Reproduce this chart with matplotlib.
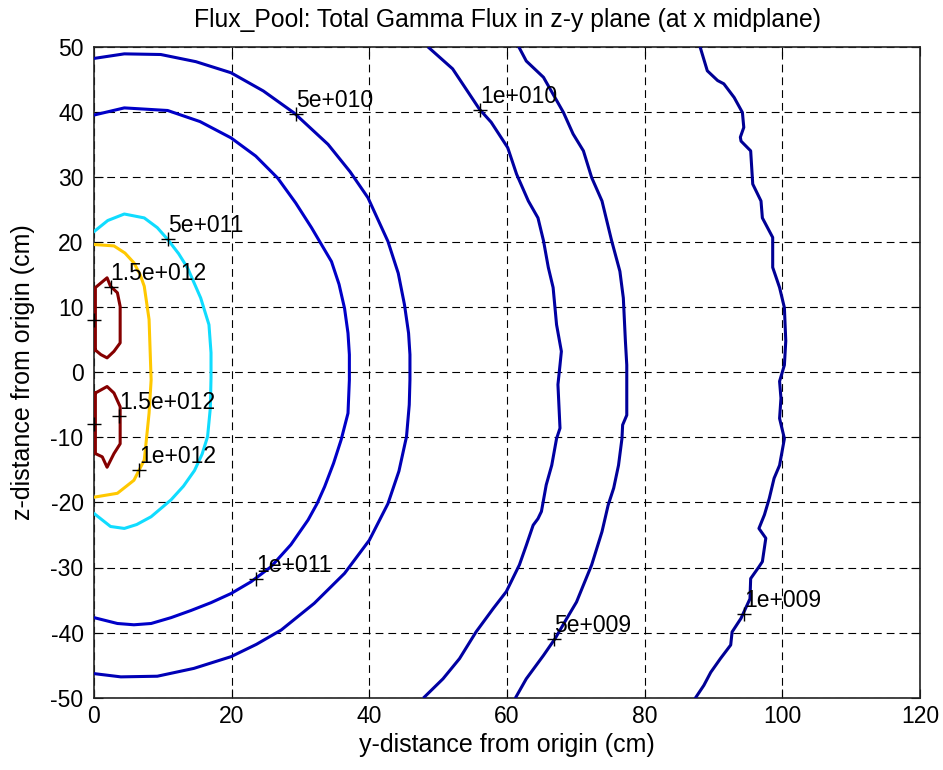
import matplotlib
matplotlib.use("Agg")
import matplotlib.pyplot as plt

plt.rcParams['font.family'] = ['Liberation Sans', 'DejaVu Sans']
plt.rcParams['axes.unicode_minus'] = False

# ---------------- data ----------------
title_text = "Flux_Pool: Total Gamma Flux in z-y plane (at x midplane)"
x_label = "y-distance from origin (cm)"
y_label = "z-distance from origin (cm)"
x_ticks = [0, 20, 40, 60, 80, 100, 120]
y_ticks = [-50, -40, -30, -20, -10, 0, 10, 20, 30, 40, 50]

# contour levels (flux) and their traced paths (y = horizontal, z = vertical)
levels = [1e9, 5e9, 1e10, 5e10, 1e11, 5e11, 1e12, 1.5e12, 1.5e12]

c1e9_y = [88.1, 89.1, 90.6, 91.5, 93.0, 94.2, 94.4, 93.9, 94.0, 95.4, 95.7, 96.9, 97.1,
          98.6, 98.6, 99.6, 100.3, 100.5, 100.3, 99.6, 99.8, 99.6, 100.3, 99.6, 98.8,
          98.1, 97.4, 96.6, 97.6, 97.1, 96.6, 95.4, 95.3, 94.0, 92.7, 92.5, 91.0, 89.6,
          88.6, 87.4]
c1e9_z = [49.8, 46.3, 44.8, 44.3, 42.2, 39.9, 37.6, 36.1, 35.5, 34.0, 28.9, 26.3, 23.7,
          20.7, 16.1, 13.0, 9.9, 4.8, 1.1, -1.4, -4.0, -7.1, -10.2, -14.3, -16.3,
          -19.4, -21.9, -24.0, -25.5, -29.1, -29.9, -31.7, -34.8, -37.8, -39.9, -41.9,
          -44.0, -46.1, -48.1, -50.0]

c5e9_y = [61.8, 62.8, 65.3, 68.2, 69.6, 71.1, 72.3, 73.8, 75.2, 76.4, 76.9, 77.2, 77.4,
          77.4, 76.8, 76.7, 76.2, 75.5, 74.7, 73.8, 72.3, 71.1, 70.1, 68.7, 67.0, 65.3,
          62.8, 61.3]
c5e9_z = [49.8, 47.8, 45.3, 39.9, 36.6, 34.0, 29.9, 26.3, 20.2, 15.5, 11.4, 4.8, 1.1,
          -6.6, -8.1, -10.2, -14.3, -17.8, -20.4, -24.5, -29.6, -32.7, -35.3, -37.8,
          -40.9, -43.5, -47.1, -49.9]

c1e10_y = [48.7, 52.1, 56.0, 57.7, 60.1, 61.4, 63.1, 64.5, 65.3, 66.0, 66.7, 67.2, 67.9,
           67.7, 67.4, 67.7, 67.2, 66.5, 65.7, 65.0, 64.5, 63.8, 62.8, 61.8, 59.9, 58.0,
           55.5, 53.1, 50.7, 48.0]
c1e10_z = [49.8, 46.6, 40.4, 38.4, 34.5, 30.4, 26.3, 23.7, 20.2, 16.1, 13.0, 7.3, 3.2,
           1.1, -1.9, -8.6, -10.2, -14.3, -17.3, -21.4, -22.5, -23.5, -26.6, -29.6,
           -33.7, -36.3, -39.9, -44.0, -47.1, -49.9]

c5e10_y = [0.0, 4.4, 9.7, 14.8, 19.9, 24.6, 29.1, 34.0, 37.2, 39.8, 42.7, 44.2, 45.1,
           45.7, 45.9, 45.9, 45.8, 45.4, 44.3, 42.7, 40.0, 36.4, 32.0, 27.2, 23.6, 19.9,
           14.5, 9.2, 3.9, 0.0]
c5e10_z = [48.2, 48.9, 48.8, 47.7, 46.0, 43.2, 39.8, 35.0, 30.8, 26.8, 20.1, 15.2, 10.4,
           6.0, 2.7, -1.2, -5.0, -9.9, -15.2, -20.2, -25.8, -30.9, -35.5, -39.6, -41.8,
           -43.7, -45.5, -46.7, -46.8, -46.3]

c1e11_y = [0.0, 4.4, 10.7, 15.4, 19.9, 23.5, 26.7, 29.3, 31.6, 34.5, 35.6, 36.4, 36.9,
           37.1, 37.1, 36.9, 35.9, 34.8, 33.5, 32.4, 31.1, 28.6, 25.7, 22.8, 19.9, 17.0,
           14.1, 11.2, 8.3, 5.8, 3.4, 0.0]
c1e11_z = [39.5, 40.6, 40.2, 38.5, 36.0, 33.2, 29.8, 26.0, 22.2, 17.0, 13.5, 9.8, 6.0,
           2.7, -1.2, -6.3, -10.4, -14.0, -17.6, -20.2, -22.7, -26.5, -29.9, -32.2,
           -34.0, -35.4, -36.6, -37.7, -38.6, -38.8, -38.6, -37.7]

c5e11_y = [0.0, 2.0, 4.4, 7.3, 9.2, 10.7, 12.3, 13.6, 15.5, 16.7, 17.0, 17.0, 16.9, 16.5,
           15.7, 14.6, 13.0, 11.2, 8.3, 6.2, 4.4, 2.4, 0.0]
c5e11_z = [21.6, 23.3, 24.3, 23.7, 22.2, 20.4, 18.2, 16.0, 11.4, 7.3, 3.0, -0.9, -5.5,
           -9.9, -12.6, -15.1, -17.5, -19.6, -22.2, -23.4, -24.0, -23.7, -21.7]

c1e12_y = [0.2, 2.9, 4.5, 5.8, 6.7, 7.3, 8.0, 8.3, 8.0, 7.5, 7.3, 5.8, 3.4, 0.0]
c1e12_z = [19.6, 19.4, 18.3, 16.8, 15.0, 13.2, 8.1, -1.2, -6.3, -11.5, -13.5, -16.6,
           -18.6, -19.2]

c15e12a_y = [0.2, 1.0, 1.9, 2.9, 3.8, 3.8, 3.4, 2.4, 1.9, 0.2, 0.2]
c15e12a_z = [3.4, 2.7, 2.2, 3.2, 4.5, 10.1, 12.2, 13.2, 14.5, 13.0, 3.4]

c15e12b_y = [0.2, 1.9, 2.9, 3.8, 3.8, 2.9, 1.9, 1.2, 0.2, 0.2]
c15e12b_z = [-3.2, -2.2, -3.2, -5.3, -11.0, -12.5, -14.6, -13.0, -12.5, -3.2]

# contour labels: marker positions and texts
label_text = ["5e+010", "1e+010", "5e+011", "1.5e+012", "1.5e+012", "1e+012",
              "1e+011", "5e+009", "1e+009"]
label_y = [29.4, 56.1, 10.7, 2.4, 3.6, 6.6, 23.5, 66.8, 94.5]
label_z = [39.6, 40.3, 20.4, 13.1, -6.8, -15.0, -31.8, -41.0, -37.1]
# label markers without visible text
extra_mark_y = [0.0, 0.0]
extra_mark_z = [8.0, -8.0]

# ---------------- styling ----------------
level_colors = ['#000094', '#00009a', '#0000a2', '#0000b6', '#0000c8',
                '#10dcff', '#ffc800', '#850000', '#850000']

paths = [(c1e9_y, c1e9_z), (c5e9_y, c5e9_z), (c1e10_y, c1e10_z),
         (c5e10_y, c5e10_z), (c1e11_y, c1e11_z), (c5e11_y, c5e11_z),
         (c1e12_y, c1e12_z), (c15e12a_y, c15e12a_z), (c15e12b_y, c15e12b_z)]

fig = plt.figure(figsize=(9.43, 7.70), dpi=100)
ax = fig.add_axes([94 / 943, 1 - 697.7 / 770, (920 - 94) / 943, (697.7 - 46.7) / 770])

for (py, pz), col in zip(paths, level_colors):
    ax.plot(py, pz, color=col, lw=2.2, solid_joinstyle='round', zorder=3)

ax.plot(label_y, label_z, linestyle='none', marker='+', color='k',
        markersize=10, mew=1.0, zorder=4)
ax.plot(extra_mark_y, extra_mark_z, linestyle='none', marker='+', color='k',
        markersize=10, mew=1.0, zorder=4, clip_on=False)
for t, ly, lz in zip(label_text, label_y, label_z):
    ax.annotate(t, (ly, lz), xytext=(0, 1.5), textcoords='offset points',
                ha='left', va='bottom', fontsize=16.5, color='k', zorder=5)

ax.set_xlim(0, 120)
ax.set_ylim(-50, 50)
ax.set_xticks(x_ticks)
ax.set_yticks(y_ticks)
ax.grid(True, color='k', linestyle=(0, (7, 4.5)), linewidth=0.8)
ax.set_axisbelow(True)
ax.tick_params(direction='in', top=True, right=True, length=6.5, width=0.8,
               labelsize=16.5, colors='k')
ax.tick_params(axis='x', pad=5.5)
ax.tick_params(axis='y', pad=7.5)
for s in ax.spines.values():
    s.set_linewidth(1.2)
    s.set_color('#222222')

ax.set_xlabel(x_label, fontsize=18, labelpad=3)
ax.set_ylabel(y_label, fontsize=18, labelpad=11)
ax.set_title(title_text, fontsize=17.8, pad=14)

fig.savefig("out.png", dpi=100)
